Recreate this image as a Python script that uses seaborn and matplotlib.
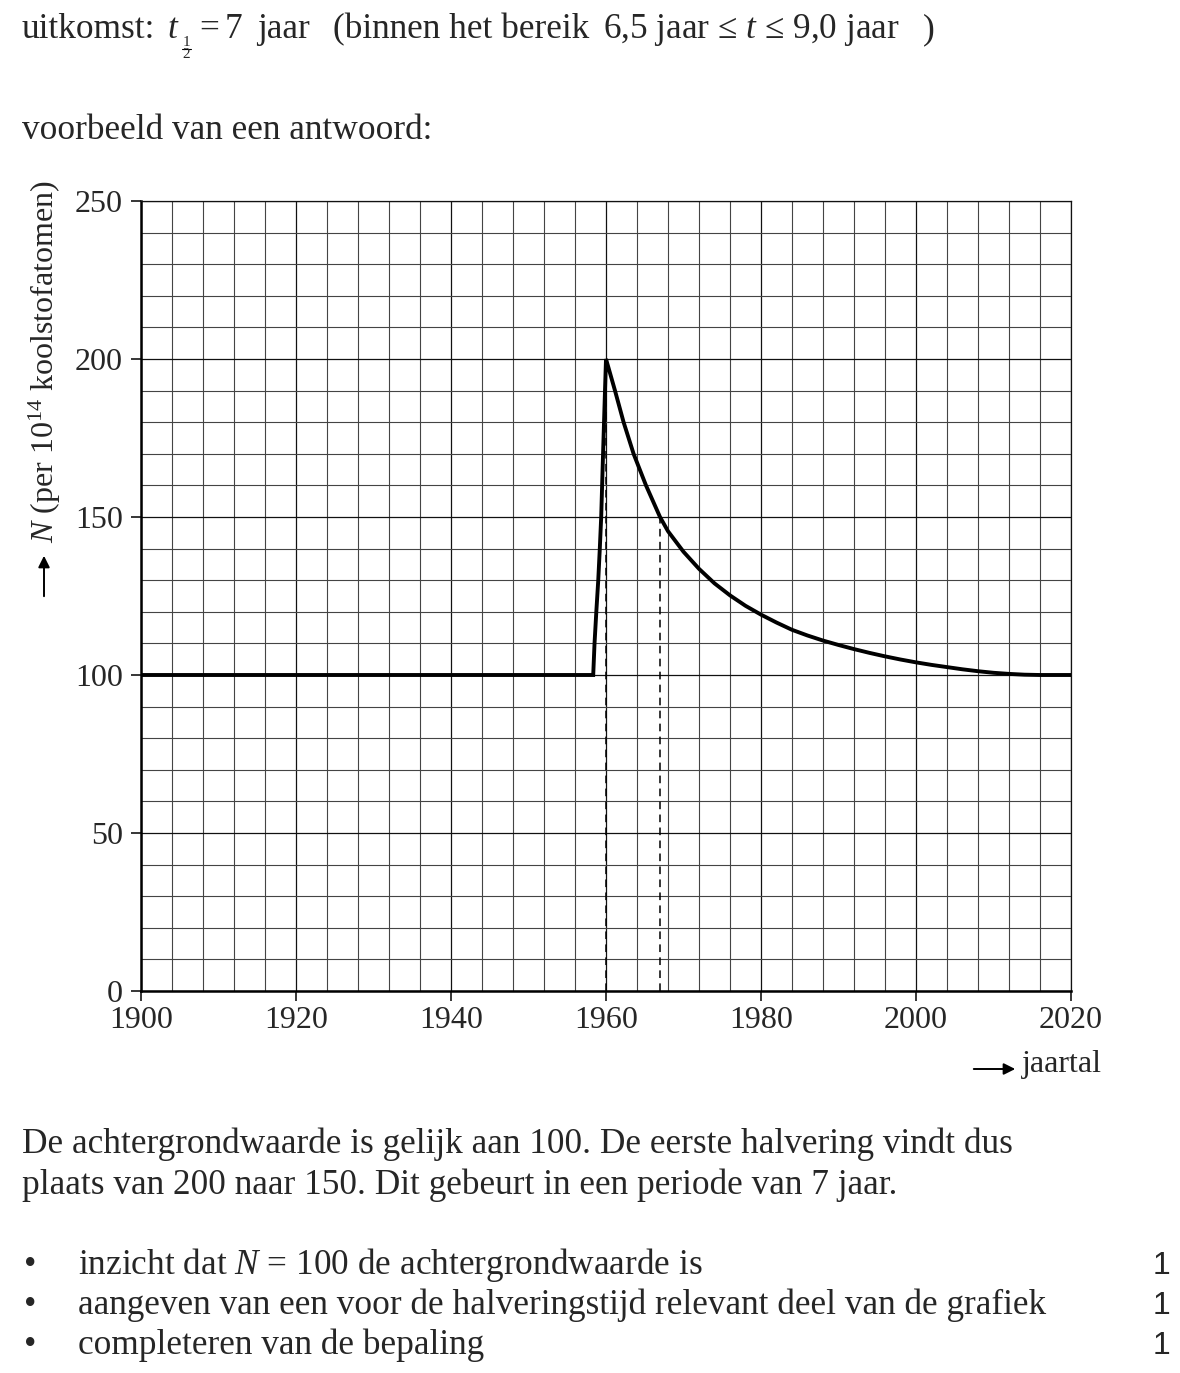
import matplotlib
matplotlib.use("Agg")
import matplotlib.pyplot as plt
from matplotlib.ticker import MultipleLocator
from matplotlib.lines import Line2D
from matplotlib.patches import FancyArrowPatch
import seaborn as sns
import pandas as pd

# ---- data ----
years = [1900, 1958.35, 1958.52, 1958.75, 1959.0, 1959.2, 1959.38, 1959.62,
         1959.87, 1960, 1961.16, 1962.27, 1963.56, 1965.16, 1966.97, 1968,
         1970, 1972, 1974, 1976, 1978, 1980, 1982, 1984, 1986, 1988, 1990,
         1992, 1994, 1996, 1998, 2000, 2002, 2004, 2006, 2008, 2010, 2012,
         2014, 2016, 2020]
N_values = [100, 100, 110, 120, 130, 140, 150, 170,
            190, 200, 190, 180, 170, 160, 150, 145.5,
            139.0, 133.6, 129.0, 125.2, 121.9, 119.1, 116.6, 114.3, 112.5, 110.9, 109.5,
            108.2, 107.0, 105.9, 104.9, 104.0, 103.2, 102.5, 101.8, 101.2, 100.7, 100.35,
            100.1, 100, 100]
dash_years = [1960, 1967]
dash_tops = [200, 150]
x_ticks = [1900, 1920, 1940, 1960, 1980, 2000, 2020]
y_ticks = [0, 50, 100, 150, 200, 250]

sns.set_style("white")
plt.rcParams['font.family'] = ['Liberation Serif', 'DejaVu Serif']
plt.rcParams['mathtext.fontset'] = 'custom'
plt.rcParams['mathtext.rm'] = 'Liberation Serif'
plt.rcParams['mathtext.it'] = 'Liberation Serif:italic'
plt.rcParams['mathtext.bf'] = 'Liberation Serif:bold'

W, H = 1180, 1373
fig = plt.figure(figsize=(W / 100, H / 100), dpi=100)
fig.patch.set_facecolor('white')

def fx(x):
    return x / W

def fy(y):
    return 1 - y / H

ax = fig.add_axes([fx(141), fy(991), fx(1071) - fx(141), fy(201) - fy(991)])

df = pd.DataFrame({'jaar': years, 'N': N_values})
sns.lineplot(data=df, x='jaar', y='N', ax=ax, color='black', linewidth=2.8,
             sort=False, estimator=None, solid_capstyle='butt', zorder=5)
ax.lines[-1].set_solid_joinstyle('miter')

for xv, top in zip(dash_years, dash_tops):
    ax.plot([xv, xv], [0, top], color='black', linewidth=1.1,
            linestyle=(0, (5, 3.5)), zorder=4)

ax.set_xlim(1900, 2020)
ax.set_ylim(0, 250)
ax.set_xticks(x_ticks)
ax.set_yticks(y_ticks)
ax.xaxis.set_minor_locator(MultipleLocator(4))
ax.yaxis.set_minor_locator(MultipleLocator(10))
ax.grid(which='major', color='#111111', linewidth=0.9, zorder=0)
ax.grid(which='minor', color='#444444', linewidth=0.8, zorder=0)
ax.set_axisbelow(True)
ax.tick_params(which='major', direction='out', length=7, width=1.1,
               color='black', labelsize=23, bottom=True, left=True)
ax.tick_params(axis='x', which='major', pad=4)
ax.tick_params(axis='y', which='major', pad=6)
ax.tick_params(which='minor', length=0)
ax.set_xlabel('')
ax.set_ylabel('')
for s in ['left', 'bottom']:
    ax.spines[s].set_linewidth(1.8)
    ax.spines[s].set_color('black')
for s in ['top', 'right']:
    ax.spines[s].set_linewidth(0.9)
    ax.spines[s].set_color('#111111')

# ---- texts ----
body = 25.4
# title line, piece by piece
fig.text(fx(22), fy(38), 'uitkomst:', fontsize=body, ha='left', va='baseline')
fig.text(fx(167), fy(38), 't', fontsize=body, style='italic', ha='left', va='baseline')
fig.text(fx(186), fy(46), '1', fontsize=11, ha='center', va='baseline')
fig.add_artist(Line2D([fx(181.5), fx(190.5)], [fy(48.5), fy(48.5)], color='black',
                      linewidth=0.8, transform=fig.transFigure))
fig.text(fx(186), fy(58), '2', fontsize=11, ha='center', va='baseline')
fig.text(fx(199), fy(38), '=', fontsize=body, ha='left', va='baseline')
fig.text(fx(225), fy(38), '7', fontsize=body, ha='left', va='baseline')
fig.text(fx(257), fy(38), 'jaar', fontsize=body, ha='left', va='baseline')
fig.text(fx(333), fy(38), '(binnen het bereik', fontsize=body, ha='left', va='baseline')
fig.text(fx(603), fy(38), r'6,5 jaar ≤ $t$ ≤ 9,0 jaar', fontsize=body,
         ha='left', va='baseline')
fig.text(fx(923), fy(38), ')', fontsize=body, ha='left', va='baseline')

fig.text(fx(22), fy(139), 'voorbeeld van een antwoord:', fontsize=body,
         ha='left', va='baseline')

# y label with arrow
fig.text(fx(45), fy(362), r'$N$ (per 10$^{14}$ koolstofatomen)', rotation=90,
         fontsize=23, ha='center', va='center')
fig.add_artist(FancyArrowPatch(
    (fx(44), fy(599)), (fx(44), fy(553)), transform=fig.transFigure,
    arrowstyle='-|>', mutation_scale=17, linewidth=1.4, color='black'))

# x label with arrow
fig.add_artist(FancyArrowPatch(
    (fx(971), fy(1069)), (fx(1018), fy(1069)), transform=fig.transFigure,
    arrowstyle='-|>', mutation_scale=17, linewidth=1.4, color='black'))
fig.text(fx(1022), fy(1072), 'jaartal', fontsize=23, ha='left', va='baseline')

fig.text(fx(22), fy(1153), 'De achtergrondwaarde is gelijk aan 100. De eerste halvering vindt dus',
         fontsize=body, ha='left', va='baseline')
fig.text(fx(22), fy(1194), 'plaats van 200 naar 150. Dit gebeurt in een periode van 7 jaar.',
         fontsize=body, ha='left', va='baseline')

bullets = [r'inzicht dat $N$ = 100 de achtergrondwaarde is',
           'aangeven van een voor de halveringstijd relevant deel van de grafiek',
           'completeren van de bepaling']
for i, b in enumerate(bullets):
    yb = 1274 + 40 * i
    fig.text(fx(24), fy(yb), '•', fontsize=body, ha='left', va='baseline')
    fig.text(fx(78), fy(yb), b, fontsize=body, ha='left', va='baseline')
    fig.text(fx(1170), fy(yb), '1', fontsize=23, ha='right', va='baseline',
             family=['Liberation Sans', 'DejaVu Sans'])

fig.savefig('out.png', dpi=100, facecolor='white')
